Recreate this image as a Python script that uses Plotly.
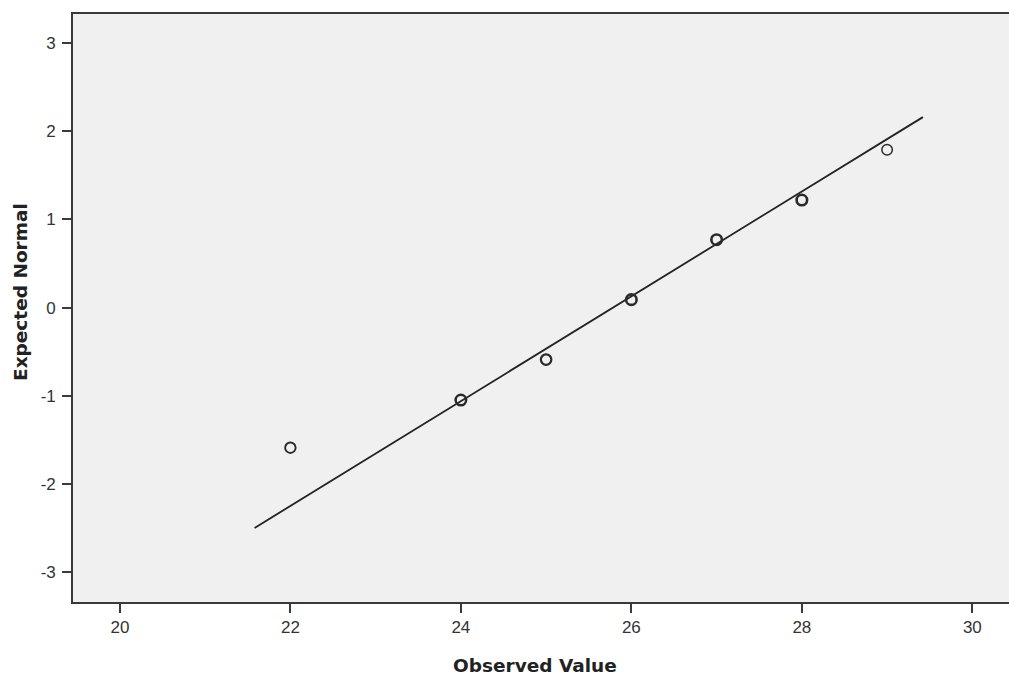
import plotly.graph_objects as go

observed = [22, 24, 25, 26, 27, 28, 29]
expected = [-1.59, -1.05, -0.59, 0.09, 0.77, 1.22, 1.79]
point_weight = [1.9, 2.5, 2.2, 2.6, 2.6, 2.6, 1.5]  # darker rings where points overlap

# Reference normal line endpoints
line_x = [21.58, 29.42]
line_y = [-2.50, 2.16]

x_ticks = [20, 22, 24, 26, 28, 30]
y_ticks = [-3, -2, -1, 0, 1, 2, 3]
y_tick_text = ["-3", "-2", "-1", "0", "1", "2", "3"]

fig = go.Figure()
fig.add_trace(go.Scatter(x=line_x, y=line_y, mode="lines",
                         line=dict(color="#222222", width=1.8), hoverinfo="skip"))
fig.add_trace(go.Scatter(x=observed, y=expected, mode="markers",
                         marker=dict(symbol="circle-open", size=10.5, color="#2a2a2a",
                                     line=dict(width=point_weight, color="#2a2a2a"))))

axis_common = dict(showgrid=False, zeroline=False, showline=True, linecolor="#3a3a3a",
                   linewidth=1.6, ticks="outside", ticklen=9, tickwidth=1.5,
                   tickcolor="#3a3a3a",
                   tickfont=dict(family="Liberation Sans, Arial, sans-serif", size=17,
                                 color="#333333"))

fig.update_xaxes(range=[19.45, 30.43], tickvals=x_ticks, mirror=True, **axis_common)
fig.update_yaxes(range=[-3.34, 3.33], tickvals=y_ticks, ticktext=y_tick_text,
                 ticklabelstandoff=3, **axis_common)

title_font = dict(family="DejaVu Sans, Verdana, sans-serif", size=18.5, color="#222222")
fig.add_annotation(text="<b>Observed Value</b>", xref="paper", yref="paper",
                   x=(535 - 73) / 936, y=-(665 - 602) / 588, showarrow=False,
                   xanchor="center", yanchor="middle", font=title_font)
fig.add_annotation(text="<b>Expected Normal</b>", xref="paper", yref="paper",
                   x=-(73 - 20) / 936, y=(602 - 292) / 588, showarrow=False,
                   textangle=-90, xanchor="center", yanchor="middle", font=title_font)

fig.update_layout(width=1009, height=679, showlegend=False,
                  margin=dict(l=73, r=0, t=14, b=77),
                  plot_bgcolor="#F0F0F0", paper_bgcolor="white")

fig.write_html("out.html", config={"displayModeBar": False},
               post_script="document.body.style.margin='0';"
                           "document.body.style.overflow='hidden';")
